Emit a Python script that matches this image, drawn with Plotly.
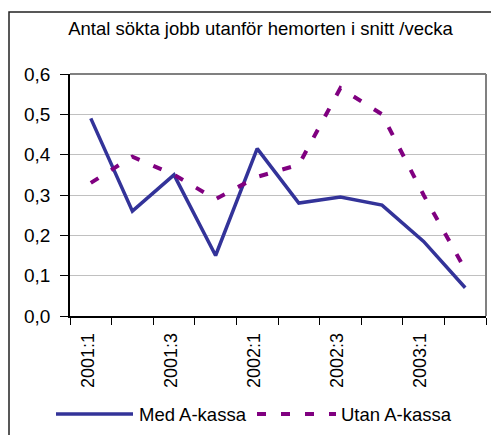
import plotly.graph_objects as go

categories = ["2001:1", "2001:2", "2001:3", "2001:4", "2002:1",
              "2002:2", "2002:3", "2002:4", "2003:1", "2003:2"]
med_akassa = [0.49, 0.26, 0.35, 0.15, 0.415, 0.28, 0.295, 0.275, 0.185, 0.07]
utan_akassa = [0.33, 0.395, 0.35, 0.29, 0.345, 0.375, 0.565, 0.50, 0.30, 0.115]
tick_labels = ["2001:1", "", "2001:3", "", "2002:1", "", "2002:3", "", "2003:1", ""]
y_ticks = [0, 0.1, 0.2, 0.3, 0.4, 0.5, 0.6]
title_text = "Antal sökta jobb utanför hemorten i snitt /vecka"
names = ["Med A-kassa", "Utan A-kassa"]

# page body has an 8px margin; work in window pixel coordinates and subtract it
OFF = 8
W, H = 499 - OFF, 435 - OFF
PL, PR, PT, PB = 70, 486, 74, 316          # plot area in window pixels
L, R, T, B = PL - OFF, W - (PR - OFF), PT - OFF, H - (PB - OFF)
PW, PH = PR - PL, PB - PT

def px(x):
    return (x - PL) / PW

def py(y):
    return (PB - y) / PH

FONT = "Liberation Sans, Arial, sans-serif"
BLUE = "#333399"
PURPLE = "#800080"

fig = go.Figure()
fig.add_trace(go.Scatter(x=categories, y=med_akassa, mode="lines", name=names[0],
                         line=dict(color=BLUE, width=3.5)))
fig.add_trace(go.Scatter(x=categories, y=utan_akassa, mode="lines", name=names[1],
                         line=dict(color=PURPLE, width=4, dash="9px,15px")))

fig.update_layout(
    width=W, height=H,
    margin=dict(l=L, r=R, t=T, b=B, pad=0, autoexpand=False),
    paper_bgcolor="white", plot_bgcolor="white",
    showlegend=False,
    separators=", ",
    font=dict(family=FONT, color="black", size=19),
    title=dict(text=title_text, x=(260.5 - OFF) / W, xref="container", xanchor="center",
               y=1 - (29 - OFF) / H, yref="container", yanchor="middle",
               font=dict(family=FONT, size=18.5, color="black")),
)

fig.update_xaxes(
    type="category", categoryorder="array", categoryarray=categories,
    range=[-0.5, len(categories) - 0.5],
    tickmode="array", tickvals=categories, ticktext=tick_labels,
    tickson="boundaries", ticks="outside", ticklen=7, tickwidth=1, tickcolor="black",
    tickangle=-90, tickfont=dict(size=18),
    showgrid=False, showline=True, linecolor="black", linewidth=1.5,
    ticklabelstandoff=8, ticklabelshift=-3, zeroline=False,
)
fig.update_yaxes(
    range=[0, 0.6], tickmode="array", tickvals=y_ticks, tickformat=".1f",
    ticks="outside", ticklen=8, tickwidth=1, tickcolor="black",
    showgrid=True, gridcolor="#c0c0c0", gridwidth=1,
    showline=True, linecolor="black", linewidth=1.5, zeroline=False,
    ticklabelstandoff=6,
)

shapes = []
# top and right plot borders (gray)
shapes.append(dict(type="line", xref="paper", yref="paper", x0=0, x1=1, y0=1, y1=1,
                   line=dict(color="#808080", width=2)))
shapes.append(dict(type="line", xref="paper", yref="paper", x0=1, x1=1, y0=0, y1=1,
                   line=dict(color="#808080", width=2)))
# outer chart border
shapes.append(dict(type="rect", xref="paper", yref="paper",
                   x0=px(9), x1=px(520), y0=py(12), y1=py(460),
                   line=dict(color="#222222", width=1.5), layer="below"))
# manual legend symbols
shapes.append(dict(type="line", xref="paper", yref="paper",
                   x0=px(56), x1=px(133), y0=py(414), y1=py(414),
                   line=dict(color=BLUE, width=3.5)))
shapes.append(dict(type="line", xref="paper", yref="paper",
                   x0=px(257), x1=px(336), y0=py(414), y1=py(414),
                   line=dict(color=PURPLE, width=4, dash="9px,15px")))
fig.update_layout(shapes=shapes)

fig.add_annotation(text=names[0], xref="paper", yref="paper", x=px(137), y=py(414),
                   xanchor="left", yanchor="middle", showarrow=False,
                   font=dict(family=FONT, size=18.5, color="black"))
fig.add_annotation(text=names[1], xref="paper", yref="paper", x=px(339), y=py(414),
                   xanchor="left", yanchor="middle", showarrow=False,
                   font=dict(family=FONT, size=18.5, color="black"))

fig.write_html("out.html")
